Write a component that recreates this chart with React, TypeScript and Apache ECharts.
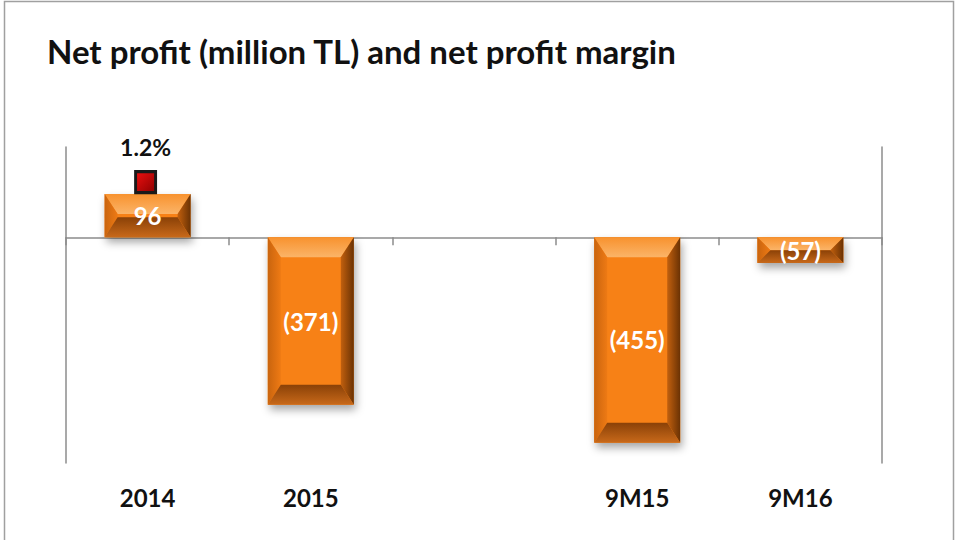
import React, { useEffect, useRef } from "react";
import * as echarts from "echarts";

const categories = ["2014", "2015", "", "9M15", "9M16"];
const netProfit: (number | null)[] = [96, -371, null, -455, -57];
const netMargin: (number | null)[] = [1.2, null, null, null, null];

const fmt = (v: number) => (v < 0 ? `(${Math.abs(v)})` : `${v}`);

export default function App() {
  const ref = useRef<HTMLDivElement>(null);
  useEffect(() => {
    if (!ref.current) return;
    const chart = echarts.init(ref.current, null, { renderer: "svg" });
    const lg = (x0: number, y0: number, x1: number, y1: number, c0: string, c1: string) =>
      new echarts.graphic.LinearGradient(x0, y0, x1, y1, [
        { offset: 0, color: c0 },
        { offset: 1, color: c1 },
      ]);
    const renderItem = (params: any, api: any) => {
      const v = api.value(1);
      if (v == null || isNaN(v)) return null;
      const xi = api.value(0);
      const p0 = api.coord([xi, 0]);
      const p1 = api.coord([xi, v]);
      const bw = api.size([1, 0])[0] * 0.527;
      const left = p0[0] - bw / 2;
      const right = left + bw;
      const top = Math.min(p0[1], p1[1]);
      const bottom = Math.max(p0[1], p1[1]);
      const h = bottom - top;
      const bv = Math.min(20, h / 2);
      const bh = Math.min(13, bw / 2);
      return {
        type: "group",
        children: [
          {
            type: "rect",
            shape: { x: left, y: top, width: bw, height: h },
            style: {
              fill: "#F78115",
              shadowBlur: 8,
              shadowOffsetX: 2,
              shadowOffsetY: 5,
              shadowColor: "rgba(0,0,0,0.35)",
            },
          },
          {
            type: "polygon",
            shape: { points: [[left, top], [right, top], [right - bh, top + bv], [left + bh, top + bv]] },
            style: { fill: lg(0, 0, 0, 1, "#F8922E", "#FBB468") },
          },
          {
            type: "polygon",
            shape: { points: [[left, top], [left + bh, top + bv], [left + bh, bottom - bv], [left, bottom]] },
            style: { fill: lg(0, 0, 1, 0, "#C9640E", "#EE7A14") },
          },
          {
            type: "polygon",
            shape: { points: [[right, top], [right - bh, top + bv], [right - bh, bottom - bv], [right, bottom]] },
            style: { fill: lg(0, 0, 1, 0, "#C2600E", "#6A3204") },
          },
          {
            type: "polygon",
            shape: { points: [[left, bottom], [left + bh, bottom - bv], [right - bh, bottom - bv], [right, bottom]] },
            style: { fill: lg(0, 0, 0, 1, "#8A4107", "#C8691A") },
          },
          {
            type: "text",
            x: (left + right) / 2,
            y: (top + bottom) / 2,
            style: {
              text: fmt(v),
              fill: "#ffffff",
              fontSize: 24,
              fontWeight: "bold",
              fontFamily: "Lato",
              align: "center",
              verticalAlign: "middle",
            },
          },
        ],
      };
    };

    const axisLineStyle = { color: "#8c8c8c", width: 1.5 };
    chart.setOption({
      animation: false,
      backgroundColor: "#ffffff",
      title: {
        text: "Net profit (million TL) and net profit margin",
        left: 42,
        top: 29,
        textStyle: { fontFamily: "Lato", fontWeight: "bold", fontSize: 33, color: "#111111" },
      },
      graphic: [
        {
          type: "rect",
          shape: { x: 4.5, y: 1.5, width: 949, height: 580 },
          style: { fill: "none", stroke: "#a0a0a0", lineWidth: 1.5 },
          silent: true,
        },
      ],
      grid: { left: 66, right: 73, top: 147, bottom: 77 },
      xAxis: [
        {
          type: "category",
          data: categories,
          position: "bottom",
          axisLine: { show: true, onZero: true, lineStyle: axisLineStyle },
          axisTick: { show: true, length: 8, lineStyle: axisLineStyle },
          axisLabel: { show: false },
        },
        {
          type: "category",
          data: categories,
          position: "bottom",
          axisLine: { show: false, onZero: false },
          axisTick: { show: false },
          axisLabel: {
            show: true,
            margin: 22,
            fontFamily: "Lato",
            fontWeight: "bold",
            fontSize: 24,
            color: "#111111",
          },
        },
      ],
      yAxis: [
        {
          type: "value",
          min: -500,
          max: 200,
          position: "left",
          axisLine: { show: true, lineStyle: axisLineStyle },
          axisTick: { show: false },
          axisLabel: { show: false },
          splitLine: { show: false },
        },
        {
          type: "value",
          min: -5,
          max: 2,
          position: "right",
          axisLine: { show: true, lineStyle: axisLineStyle },
          axisTick: { show: false },
          axisLabel: { show: false },
          splitLine: { show: false },
        },
      ],
      series: [
        {
          type: "custom",
          xAxisIndex: 0,
          yAxisIndex: 0,
          renderItem,
          encode: { x: 0, y: 1 },
          data: netProfit.map((v, i) => [i, v]),
          z: 2,
        },
        {
          type: "scatter",
          xAxisIndex: 0,
          yAxisIndex: 1,
          symbol: "rect",
          symbolSize: [20, 21],
          symbolOffset: [-2, -1],
          data: netMargin,
          z: 3,
          itemStyle: {
            color: lg(0, 0, 1, 1, "#F01010", "#8A0000"),
            borderColor: "#1a1a1a",
            borderWidth: 3,
            opacity: 1,
          },
          label: {
            show: true,
            position: "top",
            distance: 12,
            formatter: (p: any) => `${p.value}%`,
            fontFamily: "Lato",
            fontWeight: "bold",
            fontSize: 23,
            color: "#111111",
            opacity: 1,
            textBorderWidth: 0,
          },
        },
      ],
    });
    return () => chart.dispose();
  }, []);
  return (
    <div
      ref={ref}
      style={{ position: "fixed", left: 0, top: 0, width: 955, height: 540 }}
    />
  );
}
